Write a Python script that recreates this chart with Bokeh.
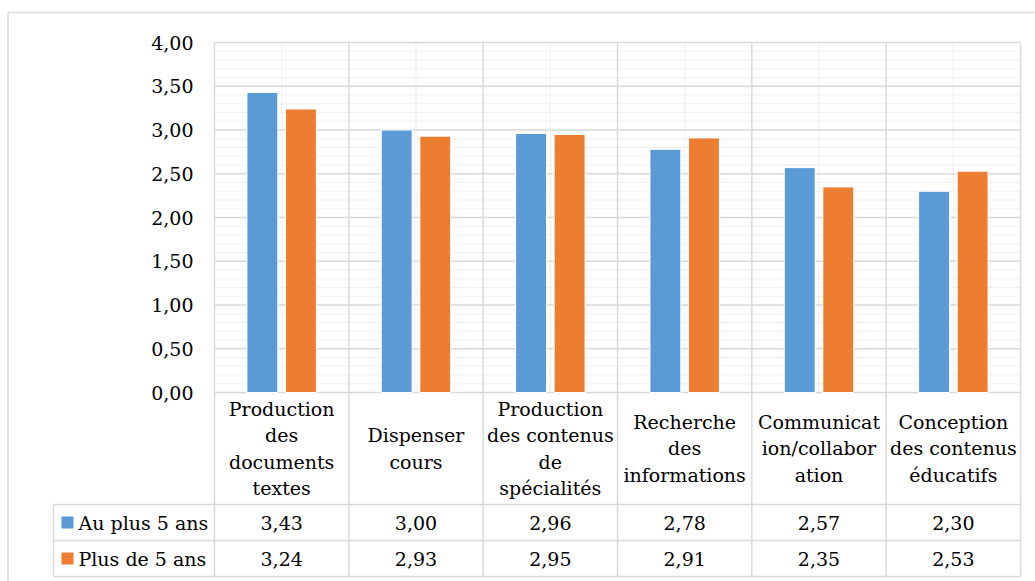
from bokeh.plotting import figure
from bokeh.models import ColumnDataSource, LinearAxis, FixedTicker, CustomJSTickFormatter, Range1d
from bokeh.transform import dodge
from bokeh.core.properties import value
from bokeh.embed import file_html
from bokeh.resources import INLINE

# ---------------- data ----------------
categories = [
    "Production\ndes\ndocuments\ntextes",
    "Dispenser\ncours",
    "Production\ndes contenus\nde\nspécialités",
    "Recherche\ndes\ninformations",
    "Communicat\nion/collabor\nation",
    "Conception\ndes contenus\néducatifs",
]
series_names = ["Au plus 5 ans", "Plus de 5 ans"]
au_plus_5_ans = [3.43, 3.00, 2.96, 2.78, 2.57, 2.30]
plus_de_5_ans = [3.24, 2.93, 2.95, 2.91, 2.35, 2.53]
y_ticks = [0.0, 0.5, 1.0, 1.5, 2.0, 2.5, 3.0, 3.5, 4.0]
colors = ["#5B9BD5", "#ED7D31"]

# ---------------- layout constants ----------------
FONT = "DejaVu Serif"
FS = "19px"
W, H = 1035, 581
PX_X = 806 / 6.0          # pixels per category
PX_Y = 350 / 4.0          # pixels per value unit
X0 = 214                  # canvas px of first category edge
Y0 = 392                  # canvas px of value 0
x_start, x_end = -X0 / PX_X, (W - X0) / PX_X
y_end, y_start = Y0 / PX_Y, -(H - Y0) / PX_Y

def ypx(py):  # canvas pixel (from top) -> data y
    return (Y0 - py) / PX_Y

def xpx(px):  # canvas pixel -> data x
    return (px - X0) / PX_X

n = len(categories)
ymax = y_ticks[-1]
row_top = 0.0
row1 = ypx(504)
row2 = ypx(540)
row3 = ypx(576)
legend_left = xpx(53)

p = figure(width=W, height=H, x_range=Range1d(x_start, x_end), y_range=Range1d(y_start, y_end),
           x_axis_type=None, y_axis_type=None, toolbar_location=None, output_backend="svg",
           min_border=0, outline_line_color=None, title=None,
           background_fill_color="white", border_fill_color="white")

MAJOR = "#D9D9D9"
MINOR = "#F0F0F0"

# minor horizontal grid (every 0.1)
minor_y = [round(i * 0.1, 1) for i in range(int(ymax * 10) + 1) if i % 5 != 0]
p.segment(x0=[0] * len(minor_y), x1=[n] * len(minor_y), y0=minor_y, y1=minor_y,
          line_color=MINOR, line_width=1.2)
# minor vertical grid (category centres)
cx = [i + 0.5 for i in range(n)]
p.segment(x0=cx, x1=cx, y0=[0] * n, y1=[ymax] * n, line_color=MINOR, line_width=1.2)
# major horizontal grid
p.segment(x0=[0] * len(y_ticks), x1=[n] * len(y_ticks), y0=y_ticks, y1=y_ticks,
          line_color=MAJOR, line_width=1.5)
# major vertical lines through plot and table
vx = list(range(n + 1))
p.segment(x0=vx, x1=vx, y0=[ymax] * len(vx), y1=[row3] * len(vx), line_color=MAJOR, line_width=1.5)
# table lines
p.segment(x0=[legend_left] * 3, x1=[n] * 3, y0=[row1, row2, row3], y1=[row1, row2, row3],
          line_color=MAJOR, line_width=1.5)
p.segment(x0=[legend_left], x1=[legend_left], y0=[row1], y1=[row3], line_color=MAJOR, line_width=1.5)

# outer frame (left and top)
frame_top = ypx(12)
frame_left = xpx(7.5)
p.segment(x0=[frame_left, frame_left], x1=[frame_left, x_end], y0=[frame_top, frame_top],
          y1=[y_start, frame_top], line_color=MAJOR, line_width=1.5)

# bars
src = ColumnDataSource(dict(x=cx, a=au_plus_5_ans, b=plus_de_5_ans))
p.vbar(x=dodge("x", -0.1435), top="a", width=0.23, bottom=0, source=src,
       fill_color=colors[0], line_color="white", line_width=1)
p.vbar(x=dodge("x", 0.1435), top="b", width=0.23, bottom=0, source=src,
       fill_color=colors[1], line_color="white", line_width=1)

# category labels
p.text(x=cx, y=[(row_top + row1) / 2] * n, text=categories, text_align="center",
       text_baseline="middle", text_font=value(FONT), text_font_size=FS,
       text_line_height=1.2, text_color="black")

# data rows
fmt = lambda v: f"{v:.2f}".replace(".", ",")
rows_y = [(row1 + row2) / 2, (row2 + row3) / 2]
for vals, ry in zip([au_plus_5_ans, plus_de_5_ans], rows_y):
    p.text(x=cx, y=[ry] * n, text=[fmt(v) for v in vals], text_align="center",
           text_baseline="middle", text_font=value(FONT), text_font_size=FS, text_color="black")

# legend keys in table
p.scatter(x=[xpx(67)] * 2, y=rows_y, marker="square", size=12, fill_color=colors,
          line_color=None)
p.text(x=[xpx(78)] * 2, y=rows_y, text=series_names, text_align="left", text_baseline="middle",
       text_font=value(FONT), text_font_size=FS, text_color="black")

# y axis
yaxis = LinearAxis(ticker=FixedTicker(ticks=y_ticks),
                   formatter=CustomJSTickFormatter(code="return tick.toFixed(2).replace('.', ',');"),
                   fixed_location=0, axis_line_color=None, major_tick_line_color=None,
                   minor_tick_line_color=None, major_tick_in=0, major_tick_out=0,
                   major_label_standoff=21, major_label_text_font=FONT,
                   major_label_text_font_size=FS, major_label_text_color="black")
p.add_layout(yaxis, "left")

open("out.html", "w").write(file_html(p, INLINE))
